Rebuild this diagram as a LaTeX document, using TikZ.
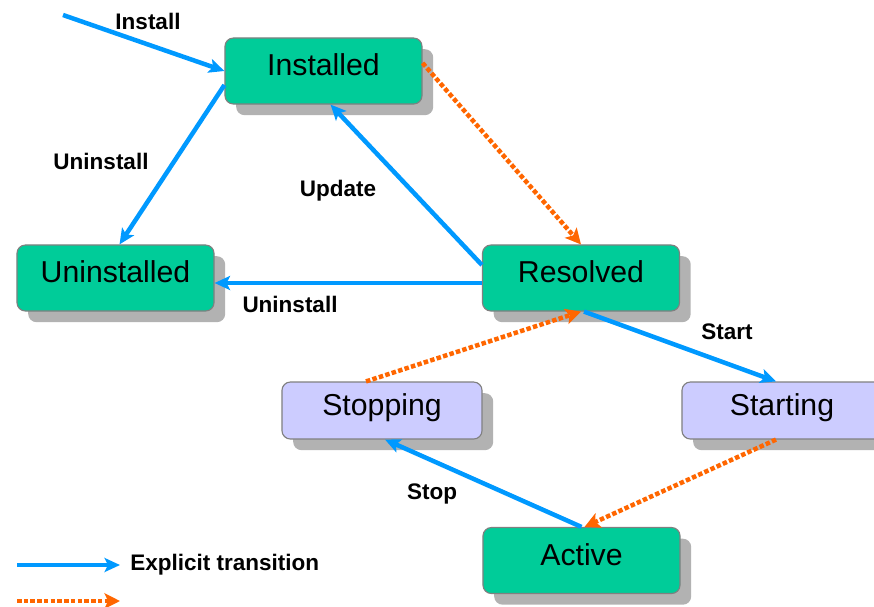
\documentclass[tikz,border=0pt]{standalone}
\usepackage{fontspec}
\setmainfont{Liberation Sans}
\usetikzlibrary{calc,arrows.meta,shadows}
\definecolor{stategreen}{RGB}{0,204,153}
\definecolor{statelilac}{RGB}{204,204,255}
\definecolor{arrowblue}{RGB}{0,153,255}
\definecolor{arroworange}{RGB}{255,102,0}

\tikzset{
  state/.style={draw=black!50, line width=0.8pt, fill=stategreen, rounded corners=6pt,
    minimum width=4.925cm, minimum height=1.65cm, inner sep=0pt,
    text height=15.5pt, text depth=8.7pt,
    font=\fontsize{21.5}{24}\selectfont,
    drop shadow={shadow xshift=0.28cm, shadow yshift=-0.28cm, fill=black!30, opacity=1}},
  transient/.style={state, fill=statelilac, minimum width=5cm, minimum height=1.425cm},
  explicit/.style={draw=arrowblue, line width=3.2pt, -{Stealth[length=11pt,width=10pt,inset=2.5pt]}},
  automatic/.style={draw=arroworange, line width=3.2pt, dash pattern=on 3.2pt off 1.6pt,
    -{Stealth[length=11pt,width=11pt,inset=2.5pt]}},
  lbl/.style={font=\bfseries\fontsize{16}{18}\selectfont, inner sep=0pt}
}

\begin{document}
\begin{tikzpicture}[x=0.025cm, y=-0.025cm]
  \useasboundingbox (0,0) rectangle (874,606);

  % states
  \node[state] (inst) at (323.5,71) {Installed};
  \node[state] (unin) at (115.5,278) {Uninstalled};
  \node[state] (res) at (581,278) {Resolved};
  \node[transient] (stop) at (382,410.5) {Stopping};
  \node[transient] (start) at (782,410.5) {Starting};
  \node[state] (act) at (581.5,560.5) {Active};

  \coordinate (entry) at (63,15);

  % explicit transitions
  \draw[explicit] (entry) -- (inst.west);
  \draw[explicit] ($(inst.west)+(0,14)$) -- ($(unin.north)+(4,0)$);
  \draw[explicit] ($(res.west)+(0,-13)$) -- ($(inst.south)+(7,0)$);
  \draw[explicit] ($(res.west)+(0,5)$) -- ($(unin.east)+(0,5)$);
  \draw[explicit] ($(res.south)+(3,0)$) -- ($(start.north)+(-6,0)$);
  \draw[explicit] (act.north) -- ($(stop.south)+(3,0)$);

  % automatic transitions
  \draw[automatic] ($(inst.east)+(0,-8)$) -- (res.north);
  \draw[automatic] ($(start.south)+(-6,0)$) -- ($(act.north)+(3,0)$);
  \draw[automatic] ($(stop.north)+(-16,0)$) -- (res.south);

  % labels
  \node[lbl] (linst) at (148,21) {Install};
  \node[lbl] (lunin) at (101,161) {Uninstall};
  \node[lbl] (lupd) at (338,191) {Update};
  \node[lbl] (lunres) at (290,304) {Uninstall};
  \node[lbl] (lstart) at (727,332) {Start};
  \node[lbl] (lstop) at (432,494) {Stop};

  % legend
  \coordinate (legA) at (17,565);
  \coordinate (legB) at (120,565);
  \coordinate (legC) at (17,601);
  \coordinate (legD) at (120,601);
  \draw[explicit] (legA) -- (legB);
  \draw[automatic] (legC) -- (legD);
  \node[lbl, anchor=west] (lexpl) at (130,565) {Explicit transition};
\end{tikzpicture}
\end{document}
